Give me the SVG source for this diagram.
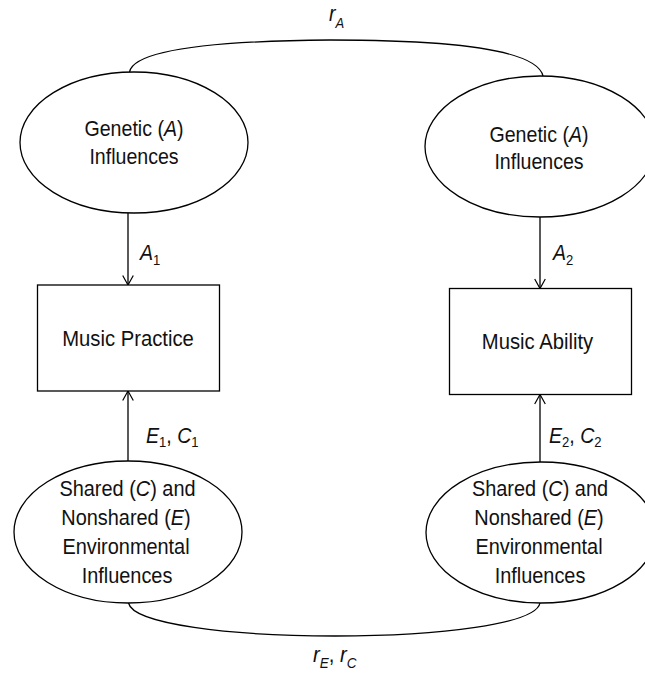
<svg xmlns="http://www.w3.org/2000/svg" width="645" height="677" viewBox="0 0 645 677">
<defs>
<marker id="arr" viewBox="0 0 12 12" refX="10.5" refY="6" markerWidth="12" markerHeight="12" markerUnits="userSpaceOnUse" orient="auto">
<path d="M1,0.7 L10.5,6 L1,11.3" fill="none" stroke="#000" stroke-width="1.2"/>
</marker>
<style>
.shape{fill:#fff;stroke:#000;stroke-width:1.3}
.ln{fill:none;stroke:#000;stroke-width:1.3}
text{font-family:"Liberation Sans",Arial,sans-serif;font-size:22.5px;fill:#111;text-anchor:middle}
.lab{text-anchor:start}
.sub{font-size:15px}
.it{font-style:italic}
</style>
</defs>
<g id="connectors">
<path class="ln" d="M129.5,72 C134,50 210,41 330,40 C455,40 537,50 543,76"/>
<path class="ln" d="M128.5,603 C133,624 230,636 335,636 C440,636 536,624 540,603"/>
<line class="ln" x1="128" y1="213" x2="128" y2="285" marker-end="url(#arr)"/>
<line class="ln" x1="540" y1="217" x2="540" y2="288.5" marker-end="url(#arr)"/>
<line class="ln" x1="128" y1="461" x2="128" y2="391" marker-end="url(#arr)"/>
<line class="ln" x1="540" y1="462" x2="540" y2="394.5" marker-end="url(#arr)"/>
<text class="lab" transform="translate(329 21) scale(0.87 1)"><tspan class="it">r</tspan><tspan class="sub it" dy="7">A</tspan></text>
<text class="lab" transform="translate(140 260) scale(0.87 1)"><tspan class="it">A</tspan><tspan class="sub" dy="5">1</tspan></text>
<text class="lab" transform="translate(553 260) scale(0.87 1)"><tspan class="it">A</tspan><tspan class="sub" dy="5">2</tspan></text>
<text class="lab" transform="translate(146 443) scale(0.87 1)"><tspan class="it">E</tspan><tspan class="sub" dy="4">1</tspan><tspan dy="-4">, </tspan><tspan class="it">C</tspan><tspan class="sub" dy="4">1</tspan></text>
<text class="lab" transform="translate(549 443) scale(0.87 1)"><tspan class="it">E</tspan><tspan class="sub" dy="4">2</tspan><tspan dy="-4">, </tspan><tspan class="it">C</tspan><tspan class="sub" dy="4">2</tspan></text>
<text class="lab" transform="translate(313 662) scale(0.9 1)"><tspan class="it">r</tspan><tspan class="sub it" dy="6">E</tspan><tspan dy="-6">, </tspan><tspan class="it">r</tspan><tspan class="sub it" dy="6">C</tspan></text>
</g>
<g id="genetic1">
<ellipse class="shape" cx="134" cy="142.5" rx="114" ry="70.5"/>
<text transform="translate(134 136) scale(0.87 1)">Genetic (<tspan class="it">A</tspan>)</text>
<text transform="translate(134 163.5) scale(0.87 1)">Influences</text>
</g>
<g id="genetic2">
<ellipse class="shape" cx="540" cy="146.5" rx="115" ry="70.5"/>
<text transform="translate(539 141.5) scale(0.87 1)">Genetic (<tspan class="it">A</tspan>)</text>
<text transform="translate(539 168.5) scale(0.87 1)">Influences</text>
</g>
<g id="practice">
<rect class="shape" x="37.5" y="285" width="182" height="106"/>
<text transform="translate(128 346) scale(0.9 1)">Music Practice</text>
</g>
<g id="ability">
<rect class="shape" x="449.5" y="288.5" width="182" height="106"/>
<text transform="translate(537.5 348.5) scale(0.9 1)">Music Ability</text>
</g>
<g id="env1">
<ellipse class="shape" cx="128" cy="532" rx="114" ry="71"/>
<text transform="translate(127.5 495.5) scale(0.885 1)">Shared (<tspan class="it">C</tspan>) and</text>
<text transform="translate(126 524.5) scale(0.885 1)">Nonshared (<tspan class="it">E</tspan>)</text>
<text transform="translate(126 553.5) scale(0.885 1)">Environmental</text>
<text transform="translate(127 583) scale(0.885 1)">Influences</text>
</g>
<g id="env2">
<ellipse class="shape" cx="541" cy="532.5" rx="115" ry="70.5"/>
<text transform="translate(540 495.5) scale(0.885 1)">Shared (<tspan class="it">C</tspan>) and</text>
<text transform="translate(539 524.5) scale(0.885 1)">Nonshared (<tspan class="it">E</tspan>)</text>
<text transform="translate(539 553.5) scale(0.885 1)">Environmental</text>
<text transform="translate(540 583) scale(0.885 1)">Influences</text>
</g>
</svg>
